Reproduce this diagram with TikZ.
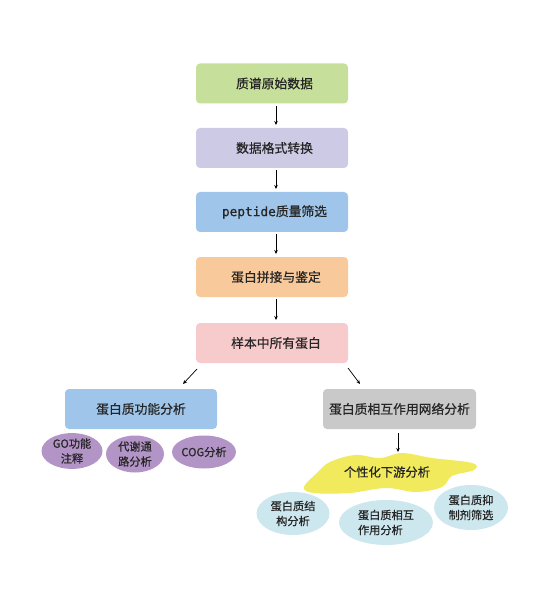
\documentclass[tikz,border=0pt]{standalone}
\usepackage{fontspec}
\setmainfont{Noto Sans CJK SC}[FakeBold=0.6,BoldFont=Noto Sans CJK SC]
\newfontfamily\pepmono{DejaVu Sans Mono}[FakeBold=0.6]
\usetikzlibrary{shapes.geometric,arrows.meta}
\definecolor{cgreen}{HTML}{C6DF9A}
\definecolor{clav}{HTML}{CDCAE6}
\definecolor{cblue}{HTML}{9FC6EA}
\definecolor{corange}{HTML}{F8C99B}
\definecolor{cpink}{HTML}{F7CACC}
\definecolor{cgray}{HTML}{C9C9C9}
\definecolor{cpurple}{HTML}{B394C6}
\definecolor{ccyan}{HTML}{CDE7EE}
\definecolor{cyellow}{HTML}{F1EA5C}
\tikzset{
  stepbox/.style={rounded corners=4pt, minimum width=152pt, minimum height=40pt, inner sep=0pt, font=\fontsize{12.8}{14}\selectfont, text=black!85},
  oval/.style={ellipse, inner sep=0pt, align=center, font=\fontsize{11.2}{15}\selectfont, text=black!85},
  arr/.style={-{Stealth[length=4pt,width=3.5pt]}, line width=0.7pt}
}
\begin{document}
\begin{tikzpicture}[x=1pt,y=-1pt]
\useasboundingbox (0,0) rectangle (554,609);
\node[stepbox, fill=cgreen] (b1) at (272,83.5) {\hspace{5pt}质谱原始数据};
\node[stepbox, fill=clav] (b2) at (272,148) {\hspace{5pt}数据格式转换};
\node[stepbox, fill=cblue] (b3) at (272,212) {\hspace{5pt}{\pepmono peptide}质量筛选};
\node[stepbox, fill=corange] (b4) at (272,277) {\hspace{8pt}蛋白拼接与鉴定};
\node[stepbox, fill=cpink] (b5) at (272,343) {\hspace{8pt}样本中所有蛋白};
\node[stepbox, fill=cblue] (l) at (141,409) {蛋白质功能分析};
\node[stepbox, fill=cgray, minimum width=153pt] (r) at (399.5,409) {蛋白质相互作用网络分析};
\node[oval, fill=cpurple, minimum width=61pt, minimum height=35pt] (e1) at (72,451) {GO功能\\注释};
\node[oval, fill=cpurple, minimum width=58pt, minimum height=37pt] (e2) at (135,454) {代谢通\\路分析};
\node[oval, fill=cpurple, minimum width=61pt, minimum height=33pt] (e3) at (204,452) {COG分析};
\fill[cyellow] plot[smooth cycle, tension=0.6] coordinates {(304,487) (318,472) (330,462) (355,455) (380,458) (402,453) (432,458) (472,463) (474,470) (452,476) (442,487) (416,492) (386,488) (350,493) (314,493)};
\node[font=\fontsize{12.3}{14}\selectfont, text=black!85] (y) at (387,472) {个性化下游分析};
\node[oval, fill=ccyan, minimum width=73pt, minimum height=43pt] (c1) at (293,513.5) {蛋白质结\\构分析};
\node[oval, fill=ccyan, minimum width=94pt, minimum height=45pt, align=left] (c2) at (386,522.5) {蛋白质相互\\作用分析};
\node[oval, fill=ccyan, minimum width=74pt, minimum height=45pt] (c3) at (471,507.5) {蛋白质抑\\制剂筛选};
\coordinate (a1s) at (276,106); \coordinate (a1e) at (276,125);
\coordinate (a2s) at (276,170); \coordinate (a2e) at (276,189);
\coordinate (a3s) at (276,234); \coordinate (a3e) at (276,254);
\coordinate (a4s) at (276,299); \coordinate (a4e) at (276,320);
\draw[arr] (a1s) -- (a1e);
\draw[arr] (a2s) -- (a2e);
\draw[arr] (a3s) -- (a3e);
\draw[arr] (a4s) -- (a4e);
\coordinate (ls) at (197,369); \coordinate (le) at (183,384);
\coordinate (rs) at (348,368); \coordinate (re) at (360,384);
\coordinate (ds) at (398,433); \coordinate (de) at (398,452);
\draw[arr] (ls) -- (le);
\draw[arr] (rs) -- (re);
\draw[arr] (ds) -- (de);
\end{tikzpicture}
\end{document}
